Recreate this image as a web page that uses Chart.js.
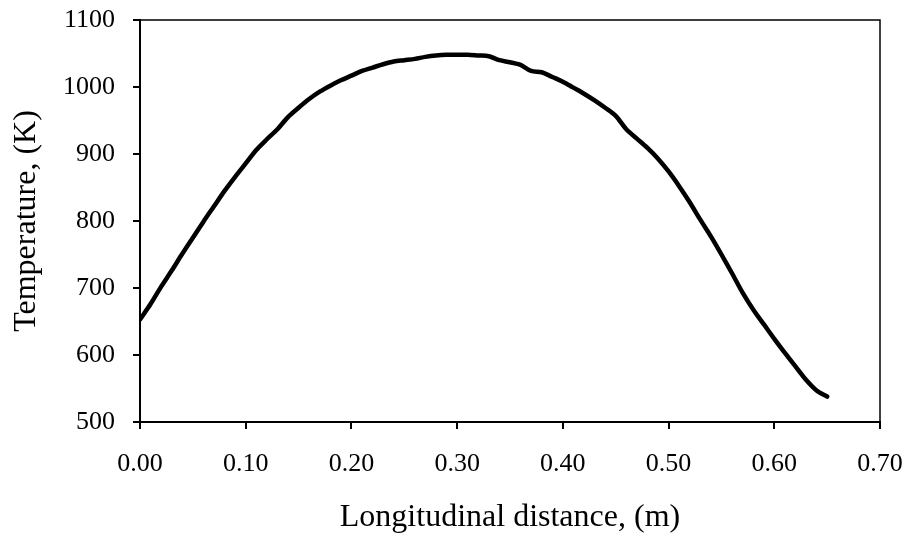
<!DOCTYPE html>
<html>
<head>
<meta charset="utf-8">
<script src="https://cdn.jsdelivr.net/npm/chart.js@4"></script>
<style>
  html, body { margin: 0; padding: 0; background: #fff; }
  #wrap { width: 907px; height: 537px; }
</style>
</head>
<body>
<div id="wrap"><canvas id="myChart" width="907" height="537"></canvas></div>
<script>
// Data
const distance = [
    0.00, 0.01, 0.02, 0.03, 0.04, 0.05, 0.06, 0.07, 0.08, 0.09,
    0.10, 0.11, 0.12, 0.13, 0.14, 0.15, 0.16, 0.17, 0.18, 0.19,
    0.20, 0.21, 0.22, 0.23, 0.24, 0.25, 0.26, 0.27, 0.28, 0.29,
    0.30, 0.31, 0.32, 0.33, 0.34, 0.35, 0.36, 0.37, 0.38, 0.39,
    0.40, 0.41, 0.42, 0.43, 0.44, 0.45, 0.46, 0.47, 0.48, 0.49,
    0.50, 0.51, 0.52, 0.53, 0.54, 0.55, 0.56, 0.57, 0.58, 0.59,
    0.60, 0.61, 0.62, 0.63, 0.64, 0.65
];
const temperature = [
    653, 676, 702, 726, 751, 775, 799, 822, 845, 866,
    886, 906, 922, 937, 955, 969, 982, 993, 1002, 1010,
    1017, 1024, 1029, 1034, 1038, 1040, 1042, 1045, 1047, 1048,
    1048, 1048, 1047, 1046, 1040, 1037, 1033, 1024, 1022, 1015,
    1008, 999, 990, 980, 969, 957, 937, 923, 909, 893,
    874, 852, 828, 802, 777, 750, 722, 693, 668, 646,
    624, 603, 583, 563, 547, 538
];
const xTitle = 'Longitudinal distance, (m)';
const yTitle = 'Temperature, (K)';

const serif = '"Liberation Serif", "Times New Roman", serif';

// top and right frame lines of the plot area
const frame = {
    id: 'frame',
    afterDraw(chart) {
        const a = chart.chartArea;
        const c = chart.ctx;
        c.save();
        c.strokeStyle = '#000';
        c.lineWidth = 1.5;
        c.beginPath();
        c.moveTo(a.left, a.top);
        c.lineTo(a.right, a.top);
        c.lineTo(a.right, a.bottom);
        c.stroke();
        c.restore();
    }
};

const ctx = document.getElementById('myChart').getContext('2d');
const myChart = new Chart(ctx, {
    type: 'line',
    data: {
        datasets: [{
            data: distance.map((d, i) => ({ x: d, y: temperature[i] })),
            borderColor: '#000',
            borderWidth: 4.5,
            pointRadius: 0,
            tension: 0.3,
            fill: false,
            borderCapStyle: 'round',
            borderJoinStyle: 'round'
        }]
    },
    options: {
        responsive: false,
        animation: false,
        layout: { padding: { top: 20, right: 27, left: 0, bottom: 0 } },
        plugins: {
            legend: { display: false },
            tooltip: { enabled: false }
        },
        scales: {
            x: {
                type: 'linear',
                min: 0,
                max: 0.7,
                afterFit: (s) => { s.height = 115; s.paddingLeft = 0; s.paddingRight = 0; },
                border: { display: true, color: '#000', width: 2 },
                grid: { display: true, drawOnChartArea: false, drawTicks: true, tickLength: 7, color: '#000', lineWidth: 2 },
                ticks: {
                    stepSize: 0.1,
                    color: '#000',
                    padding: 20,
                    maxRotation: 0,
                    font: { family: serif, size: 26 },
                    callback: (v) => v.toFixed(2)
                },
                title: {
                    display: true,
                    text: xTitle,
                    color: '#000',
                    padding: { top: 0, bottom: 0 },
                    font: { family: serif, size: 32 }
                }
            },
            y: {
                min: 500,
                max: 1100,
                afterFit: (s) => { s.width = 140; s.paddingTop = 0; s.paddingBottom = 0; },
                border: { display: true, color: '#000', width: 2 },
                grid: { display: true, drawOnChartArea: false, drawTicks: true, tickLength: 7, color: '#000', lineWidth: 2 },
                ticks: {
                    stepSize: 100,
                    color: '#000',
                    padding: 18,
                    font: { family: serif, size: 26 },
                    callback: (v) => String(v)
                },
                title: {
                    display: true,
                    text: yTitle,
                    color: '#000',
                    padding: { top: 7, bottom: 0 },
                    font: { family: serif, size: 32 }
                }
            }
        }
    },
    plugins: [frame]
});
</script>
</body>
</html>
